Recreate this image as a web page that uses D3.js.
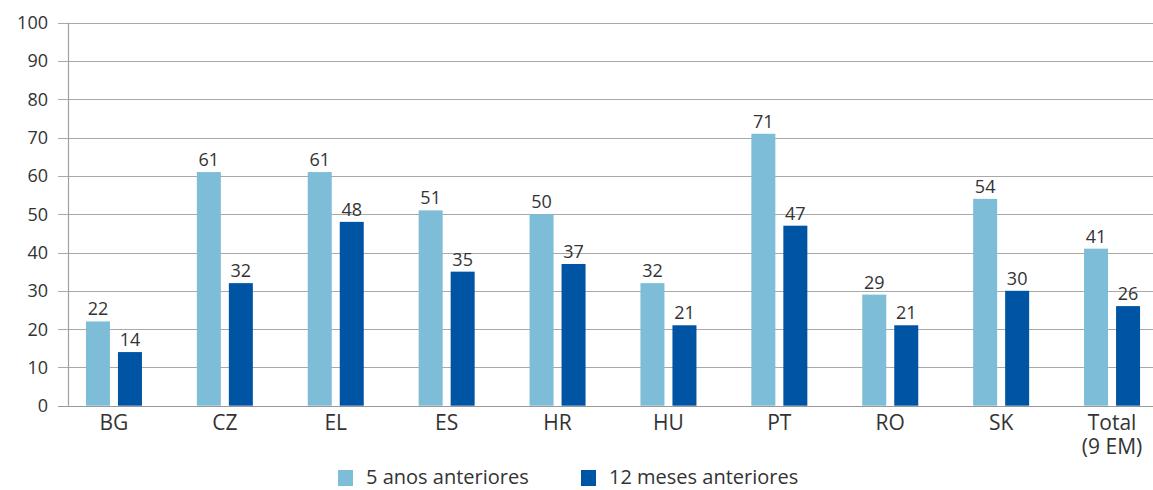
<!DOCTYPE html>
<html>
<head>
<meta charset="utf-8">
<script src="https://cdn.jsdelivr.net/npm/d3@7"></script>
<style>
  body { margin: 0; background: #fff; }
  svg text { font-family: "Open Sans", "Noto Sans", sans-serif; fill: #333; }
</style>
</head>
<body>
<div id="chart"></div>
<script>
var categories = ["BG", "CZ", "EL", "ES", "HR", "HU", "PT", "RO", "SK", "Total|(9 EM)"];
var cincoAnos = [22, 61, 61, 51, 50, 32, 71, 29, 54, 41];
var dozeMeses = [14, 32, 48, 35, 37, 21, 47, 21, 30, 26];
var seriesNames = ["5 anos anteriores", "12 meses anteriores"];
var seriesCols = ["#7dbdd8", "#0054a4"];
var yTicks = [0, 10, 20, 30, 40, 50, 60, 70, 80, 90, 100];

var width = 1153, height = 490;

var svg = d3.select("#chart").append("svg")
    .attr("width", width)
    .attr("height", height);

var y = d3.scaleLinear().domain([0, 100]).range([405.7, 22.7]);

var x0 = d3.scaleBand()
    .domain(categories)
    .range([58.5, 1167.5])
    .paddingInner(0.495)
    .paddingOuter(0.2475);

var x1 = d3.scaleBand()
    .domain([0, 1])
    .range([0, x0.bandwidth()])
    .paddingInner(0.25);

// gridlines
svg.append("g").selectAll("line")
    .data(yTicks)
    .enter().append("line")
    .attr("x1", 58)
    .attr("x2", width)
    .attr("y1", function(d) { return Math.round(y(d)) + 0.5; })
    .attr("y2", function(d) { return Math.round(y(d)) + 0.5; })
    .attr("stroke", function(d) { return d == 0 ? "#999" : "#a9a9a9"; })
    .attr("stroke-width", 1.2);

// y axis line
svg.append("line")
    .attr("x1", 68.5).attr("x2", 68.5)
    .attr("y1", y(100)).attr("y2", y(0))
    .attr("stroke", "#a0a0a0")
    .attr("stroke-width", 1.2);

// y tick labels
svg.append("g").selectAll("text")
    .data(yTicks)
    .enter().append("text")
    .attr("x", 48)
    .attr("y", function(d) { return y(d); })
    .attr("dy", "0.36em")
    .attr("text-anchor", "end")
    .style("font-size", "18px")
    .text(function(d) { return d; });

var rows = categories.map(function(c, i) {
  return { cat: c, vals: [cincoAnos[i], dozeMeses[i]] };
});

var groups = svg.append("g").selectAll("g")
    .data(rows)
    .enter().append("g")
    .attr("transform", function(d) { return "translate(" + x0(d.cat) + ",0)"; });

groups.selectAll("rect")
    .data(function(d) { return d.vals; })
    .enter().append("rect")
    .attr("x", function(d, i) { return x1(i); })
    .attr("width", x1.bandwidth())
    .attr("y", function(d) { return y(d); })
    .attr("height", function(d) { return y(0) - y(d); })
    .attr("fill", function(d, i) { return seriesCols[i]; });

groups.selectAll("text.val")
    .data(function(d) { return d.vals; })
    .enter().append("text")
    .attr("class", "val")
    .attr("x", function(d, i) { return x1(i) + x1.bandwidth() / 2; })
    .attr("y", function(d) { return y(d) - 6; })
    .attr("text-anchor", "middle")
    .style("font-size", "18px")
    .text(function(d) { return d; });

// x labels
var xl = svg.append("g").selectAll("text")
    .data(categories)
    .enter().append("text")
    .attr("x", function(d) { return x0(d) + x0.bandwidth() / 2; })
    .attr("y", 430)
    .attr("text-anchor", "middle")
    .style("font-size", "21px");

xl.each(function(d) {
  var parts = d.split("|");
  var t = d3.select(this);
  parts.forEach(function(p, k) {
    t.append("tspan")
      .attr("x", t.attr("x"))
      .attr("dy", k == 0 ? 0 : 24)
      .text(p);
  });
});

// legend
var legX = [338, 581];
var leg = svg.append("g").selectAll("g")
    .data(seriesNames)
    .enter().append("g")
    .attr("transform", function(d, i) { return "translate(" + legX[i] + ",470)"; });

leg.append("rect")
    .attr("width", 15).attr("height", 16)
    .attr("fill", function(d, i) { return seriesCols[i]; });

leg.append("text")
    .attr("x", 28)
    .attr("y", 14)
    .style("font-size", "20px")
    .text(function(d) { return d; });
</script>
</body>
</html>
